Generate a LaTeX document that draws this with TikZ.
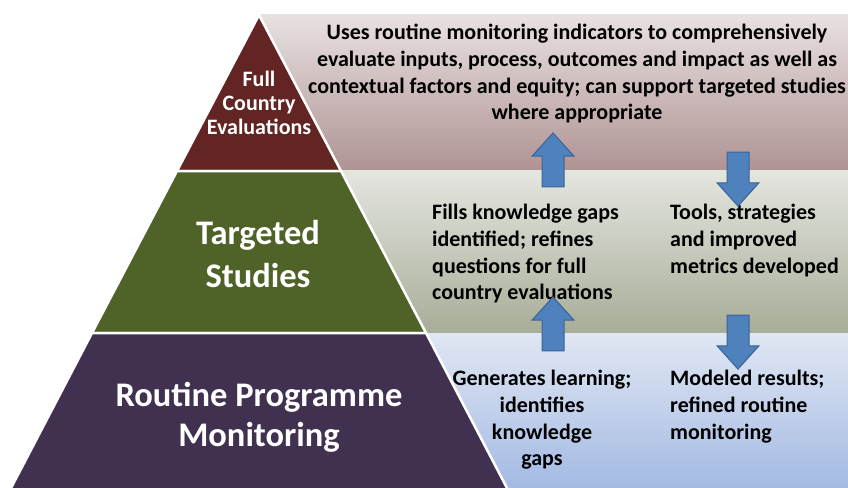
\documentclass[tikz,border=0pt]{standalone}
\usepackage{fontspec}
\setmainfont{Carlito}
\usetikzlibrary{positioning,shapes.arrows}
\definecolor{fcered}{HTML}{632523}
\definecolor{tsgreen}{HTML}{4F6228}
\definecolor{rpmpurple}{HTML}{403151}
\definecolor{fcetop}{HTML}{E8E1E1}
\definecolor{fcebottom}{HTML}{B09393}
\definecolor{tstop}{HTML}{E4E6E0}
\definecolor{tsbottom}{HTML}{A8AD98}
\definecolor{rpmtop}{HTML}{E0E7F3}
\definecolor{rpmbottom}{HTML}{A4BAE3}
\definecolor{arrowblue}{HTML}{4F81BD}
\definecolor{arrowedge}{HTML}{3A6497}
\tikzset{
    tier/.style={
        draw=white,
        line width=2.5pt,
        line join=miter
    },
    tierlabel/.style={
        text=white,
        align=center,
        inner sep=0pt
    },
    note/.style={
        font=\bfseries\fontsize{22}{26.7}\selectfont,
        align=left,
        inner sep=0pt
    },
    flowarrow/.style={ % requires library shapes.arrows
        single arrow,
        draw=arrowedge,
        fill=arrowblue,
        line width=1pt,
        minimum height=54pt,
        inner xsep=0pt,
        inner ysep=10.5pt,
        single arrow head extend=10pt,
        single arrow tip angle=84
    }
}

\begin{document}
\begin{tikzpicture}[x=1pt,y=-1pt]
        \useasboundingbox (0,0) rectangle (848,487);

        % shaded bands behind the pyramid
        \shade[top color=fcetop, bottom color=fcebottom] (259,15) rectangle (848,170);
        \shade[top color=tstop, bottom color=tsbottom] (259,170) rectangle (848,333);
        \shade[top color=rpmtop, bottom color=rpmbottom] (259,333) rectangle (848,487);

        % the pyramid
        \coordinate (apex) at (259,15);
        \coordinate (L1) at (177,171);
        \coordinate (R1) at (341,171);
        \coordinate (L2) at (92,333);
        \coordinate (R2) at (426,333);
        \coordinate (L3) at (10,490);
        \coordinate (R3) at (508,490);
        \draw[tier, fill=fcered] (apex) -- (R1) -- (L1) -- cycle;
        \draw[tier, fill=tsgreen] (L1) -- (R1) -- (R2) -- (L2) -- cycle;
        \draw[tier, fill=rpmpurple] (L2) -- (R2) -- (R3) -- (L3) -- cycle;

        \node[tierlabel, font=\bfseries\fontsize{22}{24}\selectfont] (fce) at (259,103) {Full\\Country\\Evaluations};
        \node[tierlabel, font=\bfseries\fontsize{34.5}{43}\selectfont] (ts) at (258,254) {Targeted\\Studies};
        \node[tierlabel, font=\bfseries\fontsize{34.5}{40}\selectfont] (rpm) at (259,417) {Routine Programme\\Monitoring};

        % what each level does
        \node[note, align=center, anchor=north] (fcenote) at (577,24) {Uses routine monitoring indicators to comprehensively\\evaluate inputs, process, outcomes and impact as well as\\contextual factors and equity; can support targeted studies\\where appropriate};
        \node[note, anchor=north west] (tsup) at (432,204) {Fills knowledge gaps\\identified; refines\\questions for full\\country evaluations};
        \node[note, anchor=north west] (tsdown) at (670,204) {Tools, strategies\\and improved\\metrics developed};
        \node[note, align=center, anchor=north] (rpmup) at (542,370) {Generates learning;\\identifies\\knowledge\\gaps};
        \node[note, anchor=north west] (rpmdown) at (670,370) {Modeled results;\\refined routine\\monitoring};

        % block arrows between the levels
        \node[flowarrow, rotate=90] (upA) at (553,166) {};
        \node[flowarrow, rotate=-90] (downA) at (738,173) {};
        \node[flowarrow, rotate=90] (upB) at (553,330) {};
        \node[flowarrow, rotate=-90] (downB) at (738,336) {};

    \end{tikzpicture}
\end{document}
